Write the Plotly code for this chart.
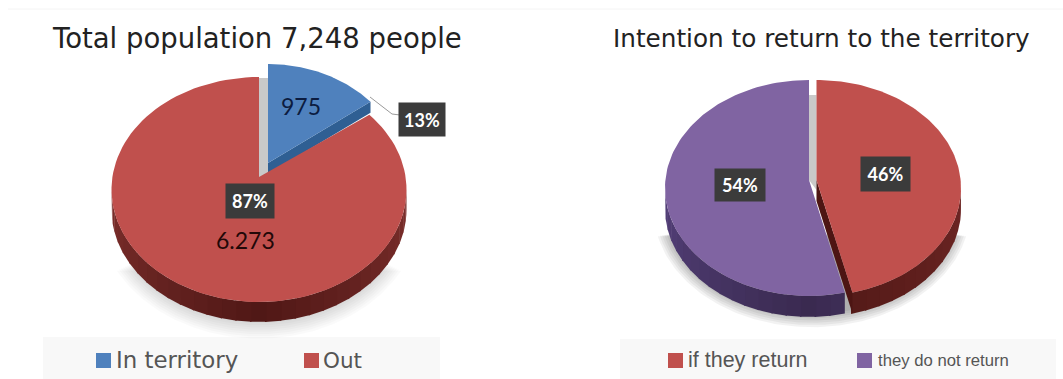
import numpy as np
import plotly.graph_objects as go

# ---- data ----
left_title = "Total population 7,248 people"
left_categories = ["In territory", "Out"]
left_values = [975, 6273]
left_value_labels = ["975", "6.273"]

right_title = "Intention to return to the territory"
right_categories = ["if they return", "they do not return"]
right_values = [46, 54]

BLUE, RED, PURPLE = "#4f81bd", "#c0504d", "#8064a2"
BLUE_D, RED_D, PURPLE_D = "#2f5f93", "#501816", "#3a2a50"

fig = go.Figure()


def poly(xs, ys, color):
    fig.add_trace(go.Scatter(x=list(xs), y=list(ys), mode="lines", fill="toself",
                             fillcolor=color, line=dict(width=0), hoverinfo="skip",
                             showlegend=False))


def arc(cx, cy, rx, ry, a0, a1, n=120):
    t = np.radians(np.linspace(a0, a1, n))
    return cx + rx * np.sin(t), cy - ry * np.cos(t)


def top(cx, cy, rx, ry, ax, ay, a0, a1, color):
    x, y = arc(cx, cy, rx, ry, a0, a1)
    poly(np.r_[ax, x, ax], np.r_[ay, y, ay], color)


def lerp(c1, c2, f):
    a = [int(c1[i:i + 2], 16) for i in (1, 3, 5)]
    b = [int(c2[i:i + 2], 16) for i in (1, 3, 5)]
    return "rgb(%d,%d,%d)" % tuple(round(p + (q - p) * f) for p, q in zip(a, b))


def side(cx, cy, rx, ry, depth, a0, a1, c_edge, c_mid):
    """Outer wall, split in strips so its shade darkens towards the front."""
    lo, hi = max(a0, 90), min(a1, 270)
    edges = np.linspace(lo, hi, int((hi - lo) / 6) + 2)
    for s, e in zip(edges[:-1], edges[1:]):
        x, y = arc(cx, cy, rx, ry, s, e + 0.6, 8)
        f = 1 - abs((s + e) / 2 - 180) / 90
        poly(np.r_[x, x[::-1]], np.r_[y, (y + depth)[::-1]], lerp(c_edge, c_mid, f))


def shadow(cx, cy, rx, ry, a0=100, a1=260, layers=9, alpha=0.028):
    for i in range(layers):
        g = i * 2.2
        x, y = arc(cx, cy, rx + g, ry + g, a0, a1)
        poly(x, y, f"rgba(0,0,0,{alpha})")


def angles(values):
    c = np.cumsum(values) / np.sum(values) * 360
    return np.r_[0, c]


# ---- left pie ----
la = angles(left_values)
lcx, lcy, lrx, lry, ld = 259, 189.5, 147.5, 112.5, 20
shadow(lcx, lcy + ld + 1, lrx - 4, lry - 2, 118, 242, alpha=0.02)
# notch shade behind the pulled-out slice
poly([259, 268, 268, 259], [78, 78, 175, 180], "#c9c9c9")
# blue pulled-out slice: cut face then top
bx, by = arc(268, 176.5, 137, 112.5, la[1], la[1], 1)
poly([268, bx[0], bx[0], 268], [163, by[0], by[0] + 11, 174], BLUE_D)
top(268, 176.5, 137, 112.5, 268, 163, la[0], la[1], BLUE)
# red slice
side(lcx, lcy, lrx, lry, ld, la[1], la[2], "#7d2f2c", RED_D)
top(lcx, lcy, lrx, lry, 259, 177, la[1], la[2], RED)

# ---- right pie ----
ra = angles(right_values)
rcy, rry, rd = 188, 108, 21
shadow(812, rcy + 22, 145, 104, 103, 257, layers=7, alpha=0.05)
poly([809, 816.5, 816.5, 809], [95, 95, 190, 180], "#c9c9c9")
# red slice
rcx1, rrx1 = 816.5, 144.5
side(rcx1, rcy, rrx1, rry, rd, ra[0], ra[1], "#6e2624", RED_D)
ex, ey = arc(rcx1, rcy, rrx1, rry, ra[1], ra[1], 1)
poly([rcx1, ex[0], ex[0], rcx1], [180, ey[0], ey[0] + rd, 180 + rd], "#4d1513")
top(rcx1, rcy, rrx1, rry, rcx1, 180, ra[0], ra[1], RED)
# purple slice
rcx2, rrx2 = 809, 144
side(rcx2, rcy, rrx2, rry, rd, ra[1], ra[2], "#54407a", PURPLE_D)
top(rcx2, rcy, rrx2, rry, rcx2, 180, ra[1], ra[2], PURPLE)

# ---- decorations and text ----
shapes = [
    dict(type="line", x0=8, x1=1063, y0=9, y1=9, line=dict(color="#f4f4f4", width=1), layer="below"),
    dict(type="rect", x0=43, x1=440, y0=337, y1=379, fillcolor="#f8f8f8", line_width=0, layer="below"),
    dict(type="rect", x0=620, x1=1056, y0=339, y1=379, fillcolor="#f8f8f8", line_width=0, layer="below"),
    dict(type="path", path="M 370 97 L 392 114 L 400 115", line=dict(color="#9a9a9a", width=1)),
]
for x0, y0, c in [(96, 353, BLUE), (304, 353, RED), (668, 353, RED), (857, 353, PURPLE)]:
    shapes.append(dict(type="rect", x0=x0, x1=x0 + 15, y0=y0, y1=y0 + 15, fillcolor=c, line_width=0))

ann = []


def text(s, x, y, size, color, family="Liberation Sans", anchor="center", **kw):
    ann.append(dict(text=s, x=x, y=y, xref="x", yref="y", showarrow=False, xanchor=anchor,
                    yanchor="middle", font=dict(size=size, color=color, family=family), **kw))


text(left_title, 256.5, 38, 27.5, "#222222", "DejaVu Sans")
text(right_title, 821, 38, 24.7, "#222222", "DejaVu Sans")


def pct(values, i):
    return f"{round(100 * values[i] / sum(values))}%"


def badge(s, x0, x1, y0, y1):
    text(s, (x0 + x1) / 2, (y0 + y1) / 2, 18, "white", "Lato", bgcolor="#3b3b3b",
         width=x1 - x0, height=y1 - y0)


badge("<b>%s</b>" % pct(left_values, 0), 400, 444, 104, 135)
badge("<b>%s</b>" % pct(left_values, 1), 227, 273, 185, 217)
badge("<b>%s</b>" % pct(right_values, 0), 862, 909, 158, 190)
badge("<b>%s</b>" % pct(right_values, 1), 716, 764, 170, 200)

text(left_value_labels[0], 301, 106, 23, "#0c1c40", "Lato")
text(left_value_labels[1], 245, 240, 23, "#220808", "Lato")

text(left_categories[0], 114, 360, 22.9, "#555555", "DejaVu Sans", anchor="left")
text(left_categories[1], 321, 360, 21.5, "#555555", "DejaVu Sans", anchor="left")
text(right_categories[0], 686, 360, 21.5, "#555555", anchor="left")
text(right_categories[1], 876, 360, 16.7, "#555555", anchor="left")

fig.update_layout(
    width=1063, height=379, margin=dict(l=0, r=0, t=0, b=0),
    paper_bgcolor="white", plot_bgcolor="white", showlegend=False,
    xaxis=dict(range=[0, 1063], visible=False, fixedrange=True),
    yaxis=dict(range=[379, 0], visible=False, fixedrange=True),
    shapes=shapes, annotations=ann,
)
fig.write_html("out.html", config={"displayModeBar": False},
               post_script="document.body.style.margin='0';document.documentElement.style.overflow='hidden';")
